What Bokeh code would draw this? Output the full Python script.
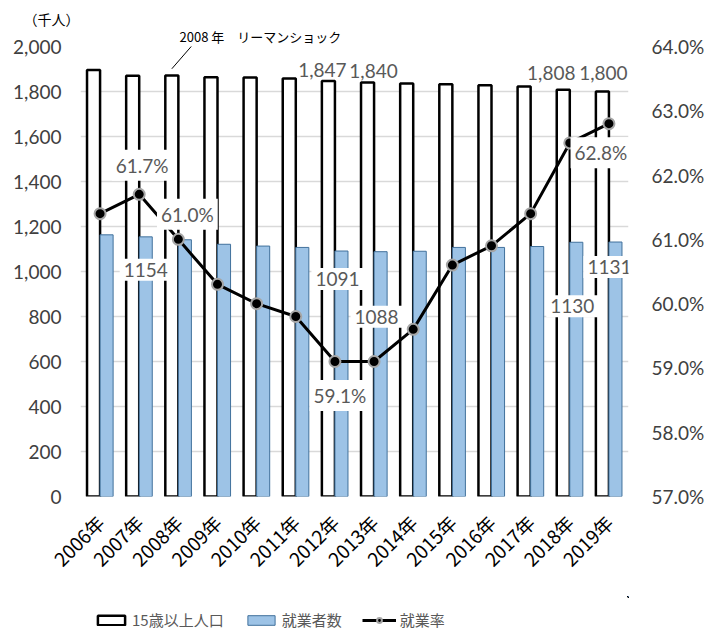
import math
from bokeh.plotting import figure
from bokeh.layouts import column
from bokeh.models import (Range1d, LinearAxis, FixedTicker, NumeralTickFormatter,
                          PrintfTickFormatter, Legend, LegendItem, Label, Arrow, Title)
from bokeh.embed import file_html
from bokeh.resources import INLINE

# ---- data ----
years = ["2006年", "2007年", "2008年", "2009年", "2010年", "2011年", "2012年",
         "2013年", "2014年", "2015年", "2016年", "2017年", "2018年", "2019年"]
population = [1896, 1870, 1871, 1863, 1862, 1858, 1847, 1840, 1836, 1832, 1828, 1822, 1808, 1800]
employed = [1163, 1154, 1141, 1121, 1113, 1107, 1091, 1088, 1090, 1107, 1107, 1111, 1130, 1131]
rate = [61.4, 61.7, 61.0, 60.3, 60.0, 59.8, 59.1, 59.1, 59.6, 60.6, 60.9, 61.4, 62.5, 62.8]
left_ticks = [0, 200, 400, 600, 800, 1000, 1200, 1400, 1600, 1800, 2000]
right_ticks = [57, 58, 59, 60, 61, 62, 63, 64]

# labelled points (index into the arrays above)
pop_labelled = [6, 7, 12, 13]
emp_labelled = [1, 6, 7, 12, 13]
rate_labelled = [1, 2, 6, 13]

xs = list(range(len(years)))
pop_x = [i - 1 / 6 for i in xs]
emp_x = [i + 1 / 6 for i in xs]

NUM_FONT = "Lato"
CJK_FONT = "Noto Sans CJK JP"

POP_STYLE = dict(fill_color="white", line_color="black", line_width=2.5)
EMP_STYLE = dict(fill_color="#9dc3e6", line_color="#41719c", line_width=1)
LINE_STYLE = dict(line_color="black", line_width=3)
DOT_STYLE = dict(size=11, fill_color="black", line_color="#a6a6a6", line_width=2)

p = figure(width=717, height=596, x_range=Range1d(-0.5, len(years) - 0.5),
           y_range=Range1d(0, 2000), output_backend="svg", toolbar_location=None,
           min_border_left=80, min_border_right=89, min_border_top=46,
           min_border_bottom=100)
p.outline_line_color = None
p.extra_y_ranges = {"rate": Range1d(57, 64)}

# texts above the plot area (outer: unit, inner: annotation)
p.title.text = "（千人）"
p.title.align = "left"
p.title.offset = -57
p.title.standoff = -8
p.title.text_font = CJK_FONT
p.title.text_font_size = "14px"
p.title.text_font_style = "normal"
p.title.text_color = "#000000"
p.add_layout(Title(text="2008 年　リーマンショック", align="left", offset=99, standoff=1,
                   text_font=CJK_FONT, text_font_size="13px", text_font_style="normal",
                   text_color="#000000"), "above")

# axes
p.yaxis.ticker = FixedTicker(ticks=left_ticks)
p.yaxis.formatter = NumeralTickFormatter(format="0,0")
p.ygrid.ticker = FixedTicker(ticks=left_ticks)
p.ygrid.grid_line_color = "#d9d9d9"
p.ygrid.grid_line_width = 1.5
p.xgrid.visible = False

right_axis = LinearAxis(y_range_name="rate", ticker=FixedTicker(ticks=right_ticks),
                        formatter=PrintfTickFormatter(format="%.1f%%"))
p.add_layout(right_axis, "right")

p.xaxis.ticker = FixedTicker(ticks=xs)
p.xaxis.major_label_overrides = {i: y for i, y in zip(xs, years)}
p.xaxis.major_label_orientation = math.pi / 4
p.xaxis.major_label_text_font = CJK_FONT
p.xaxis.major_label_text_font_size = "19px"
p.xaxis.major_label_text_color = "#000000"
p.xaxis.major_label_standoff = 16

for ax in [p.yaxis[0], right_axis]:
    ax.major_label_text_font = NUM_FONT
    ax.major_label_text_font_size = "19px"
    ax.major_label_text_color = "#404040"
p.yaxis[0].major_label_standoff = 13
right_axis.major_label_standoff = 17

for ax in p.axis:
    ax.axis_line_color = None
    ax.major_tick_line_color = None
    ax.minor_tick_line_color = None

# glyphs
pop_r = p.vbar(x=pop_x, top=population, bottom=0, width=1 / 3, **POP_STYLE)
emp_r = p.vbar(x=emp_x, top=employed, bottom=0, width=1 / 3, **EMP_STYLE)
line_r = p.line(xs, rate, y_range_name="rate", **LINE_STYLE)
dot_r = p.scatter(xs, rate, y_range_name="rate", **DOT_STYLE)

# data labels (offsets in screen pixels: dx right, dy up)
label_style = dict(text_font=NUM_FONT, text_font_size="19px", text_color="#595959",
                   text_align="center", text_baseline="middle")
pop_off = {6: (-6, 11), 7: (6, 12), 12: (-12, 17), 13: (1, 19)}
for i in pop_labelled:
    dx, dy = pop_off[i]
    p.add_layout(Label(x=pop_x[i], y=population[i], text=f"{population[i]:,}",
                       x_offset=dx, y_offset=dy, **label_style))
emp_off = {1: (0, -33), 6: (-4, -28), 7: (-4, -65), 12: (-4, -64), 13: (-6, -25)}
for i in emp_labelled:
    dx, dy = emp_off[i]
    p.add_layout(Label(x=emp_x[i], y=employed[i], text=f"{employed[i]}",
                       x_offset=dx, y_offset=dy, background_fill_color="white",
                       padding=4, **label_style))
rate_off = {1: (3, 29), 2: (9, 25), 6: (5, -34), 13: (-8, -29)}
for i in rate_labelled:
    dx, dy = rate_off[i]
    p.add_layout(Label(x=xs[i], y=rate[i], y_range_name="rate", text=f"{rate[i]:.1f}%",
                       x_offset=dx, y_offset=dy, background_fill_color="white",
                       padding=4, **label_style))

# leader line for the 2008 annotation
k = years.index("2008年")
p.add_layout(Arrow(end=None, x_start=pop_x[k], y_start=population[k] + 30,
                   x_end=pop_x[k] + 0.81, y_end=population[k] + 192,
                   line_color="black", line_width=1))

# legend strip below the chart: the same series drawn just out of view, used only as keys
leg = figure(width=717, height=37, title=None, x_range=Range1d(-100, -14),
             y_range=Range1d(-5000, -2100), x_axis_type=None, y_axis_type=None,
             output_backend="svg", toolbar_location=None, min_border=0)
leg.outline_line_color = None
lp = leg.vbar(x=pop_x, top=population, bottom=0, width=1 / 3, **POP_STYLE)
le = leg.vbar(x=emp_x, top=employed, bottom=0, width=1 / 3, **EMP_STYLE)
ll = leg.line(xs, rate, **LINE_STYLE)
ls = leg.scatter(xs, rate, **DOT_STYLE)
legend = Legend(items=[LegendItem(label="15歳以上人口", renderers=[lp]),
                       LegendItem(label="就業者数", renderers=[le]),
                       LegendItem(label="就業率", renderers=[ll, ls])],
                orientation="horizontal", location=(14, 3), padding=0, margin=0,
                spacing=20, glyph_width=34, glyph_height=12, label_standoff=4,
                label_height=20, label_text_font=CJK_FONT, label_text_font_size="15px",
                label_text_color="#595959", border_line_color=None,
                background_fill_alpha=0)
leg.add_layout(legend)

open("out.html", "w").write(file_html(column(p, leg, spacing=0), INLINE))
